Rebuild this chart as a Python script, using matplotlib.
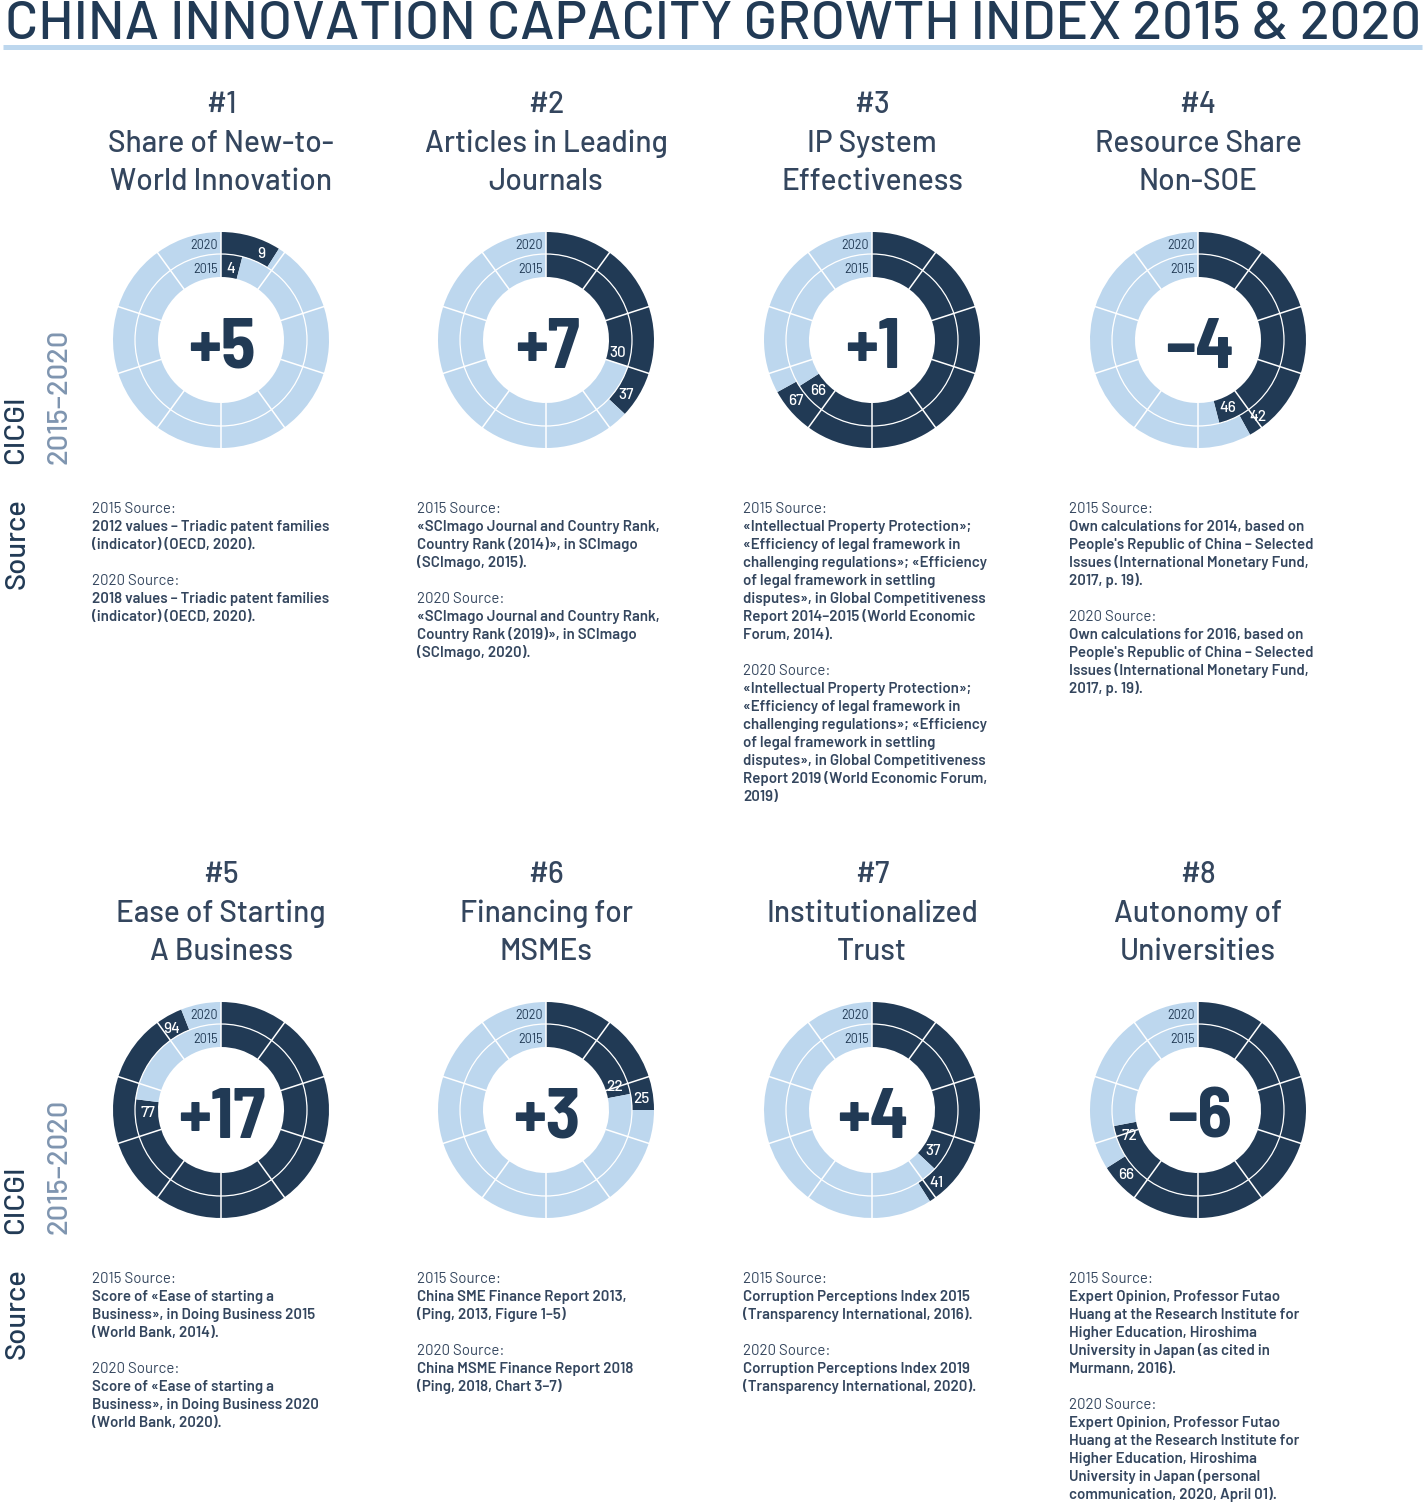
import numpy as np
import matplotlib
matplotlib.use("Agg")
import matplotlib.pyplot as plt
from matplotlib.lines import Line2D
from matplotlib.patches import Circle

plt.rcParams["font.family"] = ["Barlow", "Barlow Semi Condensed", "Roboto", "DejaVu Sans"]
NUM_FONT = ["Barlow Semi Condensed", "Barlow", "Roboto", "DejaVu Sans"]

DARK = "#213a55"
LIGHT = "#bdd7ee"
MUTED = "#7f95b0"
TEXT = "#34465e"

# ---- data -------------------------------------------------------------
ranks = ["#1", "#2", "#3", "#4", "#5", "#6", "#7", "#8"]
titles = [
    ("Share of New-to-", "World Innovation"),
    ("Articles in Leading", "Journals"),
    ("IP System", "Effectiveness"),
    ("Resource Share", "Non-SOE"),
    ("Ease of Starting", "A Business"),
    ("Financing for", "MSMEs"),
    ("Institutionalized", "Trust"),
    ("Autonomy of", "Universities"),
]
values_2015 = [4, 30, 66, 46, 77, 22, 37, 72]
values_2020 = [9, 37, 67, 42, 94, 25, 41, 66]

sources_2015 = [
    ["2012 values – Triadic patent families", "(indicator) (OECD, 2020)."],
    ["«SCImago Journal and Country Rank,", "Country Rank (2014)», in SCImago", "(SCImago, 2015)."],
    ["«Intellectual Property Protection»;", "«Efficiency of legal framework in",
     "challenging regulations»; «Efficiency", "of legal framework in settling",
     "disputes», in Global Competitiveness", "Report 2014–2015 (World Economic", "Forum, 2014)."],
    ["Own calculations for 2014, based on", "People's Republic of China – Selected",
     "Issues (International Monetary Fund,", "2017, p. 19)."],
    ["Score of «Ease of starting a", "Business», in Doing Business 2015", "(World Bank, 2014)."],
    ["China SME Finance Report 2013,", "(Ping, 2013, Figure 1–5)"],
    ["Corruption Perceptions Index 2015", "(Transparency International, 2016)."],
    ["Expert Opinion, Professor Futao", "Huang at the Research Institute for",
     "Higher Education, Hiroshima", "University in Japan (as cited in", "Murmann, 2016)."],
]
sources_2020 = [
    ["2018 values – Triadic patent families", "(indicator) (OECD, 2020)."],
    ["«SCImago Journal and Country Rank,", "Country Rank (2019)», in SCImago", "(SCImago, 2020)."],
    ["«Intellectual Property Protection»;", "«Efficiency of legal framework in",
     "challenging regulations»; «Efficiency", "of legal framework in settling",
     "disputes», in Global Competitiveness", "Report 2019 (World Economic Forum,", "2019)"],
    ["Own calculations for 2016, based on", "People's Republic of China – Selected",
     "Issues (International Monetary Fund,", "2017, p. 19)."],
    ["Score of «Ease of starting a", "Business», in Doing Business 2020", "(World Bank, 2020)."],
    ["China MSME Finance Report 2018", "(Ping, 2018, Chart 3–7)"],
    ["Corruption Perceptions Index 2019", "(Transparency International, 2020)."],
    ["Expert Opinion, Professor Futao", "Huang at the Research Institute for",
     "Higher Education, Hiroshima", "University in Japan (personal",
     "communication, 2020, April 01)."],
]

# ---- layout -----------------------------------------------------------
W, H = 1426, 1502
col_x = [221, 546, 872, 1198]
row_dy = 770
R_PX = 108.0
R_OUT, R_MID, R_IN = 1.0, 86 / R_PX, 63 / R_PX
LIM = 120 / R_PX

fig = plt.figure(figsize=(W / 100, H / 100), dpi=100)


def fx(x):
    return x / W


def fy(y):
    return 1 - y / H


fig.text(fx(5), fy(39), "CHINA INNOVATION CAPACITY GROWTH INDEX 2015 & 2020",
         fontsize=39.4, weight="medium", color=DARK, ha="left", va="baseline")
fig.add_artist(Line2D([fx(3), fx(1422)], [fy(46.5), fy(46.5)], transform=fig.transFigure,
                      color=LIGHT, lw=3.6, solid_capstyle="butt"))


def value_label(ax, v, r, txt, pad):
    # put the number just inside the end of the dark arc
    end = np.deg2rad(v * 3.6)
    w, h = 7.5 * len(txt), 11.0
    ext = abs(np.cos(end)) * w / 2 + abs(np.sin(end)) * h / 2
    th = end - (pad + ext) / (r * R_PX)
    ax.text(r * np.sin(th), r * np.cos(th), txt, ha="center", va="center_baseline",
            fontsize=11, weight="medium", color="white")


def donut(i):
    row, col = divmod(i, 4)
    cx = col_x[col]
    cy = 340 + row * row_dy
    ax = fig.add_axes([fx(cx - 120), fy(cy + 120), 240 / W, 240 / H])
    v15, v20 = values_2015[i], values_2020[i]
    ax.pie([v20, 100 - v20], radius=R_OUT, startangle=90, counterclock=False,
           colors=[DARK, LIGHT], wedgeprops=dict(width=R_OUT - R_MID, linewidth=0))
    ax.pie([v15, 100 - v15], radius=R_MID, startangle=90, counterclock=False,
           colors=[DARK, LIGHT], wedgeprops=dict(width=R_MID - R_IN, linewidth=0))
    for k in range(10):
        th = np.deg2rad(k * 36)
        ax.plot([R_IN * np.sin(th), R_OUT * np.sin(th)], [R_IN * np.cos(th), R_OUT * np.cos(th)],
                color="white", lw=1.1)
    ax.add_patch(Circle((0, 0), R_MID, fill=False, ec="white", lw=0.9))
    ax.set_xlim(-LIM, LIM)
    ax.set_ylim(-LIM, LIM)
    ax.axis("off")

    ax.text(-0.03, 0.843, "2020", ha="right", va="baseline", fontsize=9, color=DARK)
    ax.text(-0.03, 0.623, "2015", ha="right", va="baseline", fontsize=9, color=DARK)
    value_label(ax, v20, 0.89, str(v20), 7)
    value_label(ax, v15, 0.675, str(v15), 4)

    diff = v20 - v15
    ax.text(0.01, -0.255, f"{diff:+d}".replace("-", "–"), ha="center", va="baseline",
            fontsize=51, weight="bold", color=DARK, family=NUM_FONT)

    # heading
    top = row * row_dy
    fig.text(fx(cx), fy(113 + top), ranks[i], ha="center", va="baseline", fontsize=21.5,
             weight="medium", color=TEXT)
    fig.text(fx(cx), fy(152 + top), titles[i][0], ha="center", va="baseline", fontsize=21.5,
             weight="medium", color=TEXT)
    fig.text(fx(cx), fy(190 + top), titles[i][1], ha="center", va="baseline", fontsize=21.5,
             weight="medium", color=TEXT)

    # sources
    x0 = cx - 129
    y = 513 + top
    lines = [("2015 Source:", "normal")] + [(s, "semibold") for s in sources_2015[i]]
    lines += [("", "normal"), ("2020 Source:", "normal")] + [(s, "semibold") for s in sources_2020[i]]
    for txt, wt in lines:
        if txt:
            fig.text(fx(x0), fy(y), txt, ha="left", va="baseline", fontsize=10.8, weight=wt, color=TEXT)
        y += 18


for i in range(8):
    donut(i)

for row in range(2):
    off = row * row_dy
    fig.text(fx(23.5), fy(464 + off), "CICGI", rotation=90, rotation_mode="anchor",
             ha="left", va="baseline", fontsize=21, weight="medium", color=DARK)
    fig.text(fx(67), fy(464 + off), "2015–2020", rotation=90, rotation_mode="anchor",
             ha="left", va="baseline", fontsize=21, weight="medium", color=MUTED)
    fig.text(fx(25), fy(589 + off), "Source", rotation=90, rotation_mode="anchor",
             ha="left", va="baseline", fontsize=21, weight="medium", color=DARK)

fig.savefig("out.png", dpi=100)
